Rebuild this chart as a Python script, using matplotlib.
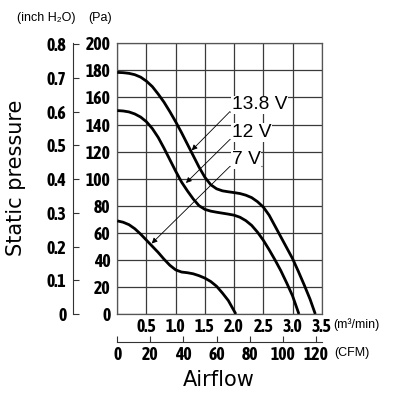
import matplotlib
matplotlib.use("Agg")
import matplotlib.pyplot as plt
from matplotlib import font_manager

# ---- data ----
x_138 = [0, 0.1, 0.2, 0.3, 0.4, 0.5, 0.6, 0.7, 0.8, 0.9, 1.0, 1.1, 1.2, 1.3, 1.4, 1.5, 1.6, 1.7, 1.8, 1.9,
         2.0, 2.1, 2.2, 2.3, 2.4, 2.5, 2.6, 2.7, 2.8, 2.9, 3.0, 3.1, 3.2, 3.3, 3.39]
y_138 = [178.5, 178.3, 177.8, 176.8, 175, 172, 168, 162.5, 156.5, 149.5, 142, 134, 125.5, 117, 108.5, 101,
         95.5, 92.5, 91, 90.3, 89.7, 89, 87.8, 86, 83, 79, 73, 65, 57, 49, 41, 31.5, 21.5, 11, 0]
x_12 = [0, 0.1, 0.2, 0.3, 0.4, 0.5, 0.6, 0.7, 0.8, 0.9, 1.0, 1.1, 1.2, 1.3, 1.4, 1.5, 1.6, 1.7, 1.8, 1.9,
        2.0, 2.1, 2.2, 2.3, 2.4, 2.5, 2.6, 2.7, 2.8, 2.9, 3.0, 3.11]
y_12 = [150.3, 150, 149.3, 147.8, 145.5, 142, 137, 130.5, 122.5, 114, 105.5, 97.5, 91, 85, 80, 77.3, 76,
        75.2, 74.5, 73.8, 73, 71.5, 69, 65.5, 60.5, 54.5, 47.5, 40, 32, 23, 13.5, 0]
x_7 = [0, 0.1, 0.2, 0.3, 0.4, 0.5, 0.6, 0.7, 0.8, 0.9, 1.0, 1.1, 1.2, 1.3, 1.4, 1.5, 1.6, 1.7, 1.8, 1.9, 2.03]
y_7 = [68.8, 67.8, 66, 63, 59, 54.5, 50, 45.5, 40.5, 36, 32.6, 31, 30.5, 29.7, 28.3, 26.5, 24, 20.5,
       15.5, 10, 0]

labels = ["13.8 V", "12 V", "7 V"]
arrow_tips = [(1.274, 120.9), (1.176, 96.8), (0.589, 52.1)]
label_anchor_y = [149.6, 129.0, 109.1]
label_anchor_x = 1.93
underline_end_x = [2.84, 2.56, 2.47]

x_ticks = [0.5, 1.0, 1.5, 2.0, 2.5, 3.0, 3.5]
x_ticklabels = ["0.5", "1.0", "1.5", "2.0", "2.5", "3.0", "3.5"]
y_ticks = [0, 20, 40, 60, 80, 100, 120, 140, 160, 180, 200]
inch_ticks = [0, 0.1, 0.2, 0.3, 0.4, 0.5, 0.6, 0.7, 0.8]
inch_ticklabels = ["0", "0.1", "0.2", "0.3", "0.4", "0.5", "0.6", "0.7", "0.8"]
cfm_ticks = [0, 20, 40, 60, 80, 100, 120]

PA_PER_INCH = 249.089
CFM_PER_M3MIN = 35.3147

# pick a narrow bold font if one is installed
narrow = None
for f in font_manager.fontManager.ttflist:
    if ("Narrow" in f.name or "Condensed" in f.name) and f.weight in ("bold", 700):
        narrow = (f.name, "normal")
        break
if narrow is None:
    for f in font_manager.fontManager.ttflist:
        if f.stretch in ("condensed", "semi-condensed", 300) and f.name == "DejaVu Sans":
            narrow = ("DejaVu Sans", "condensed")
            break
if narrow is None:
    TICK_FAMILY, TICK_STRETCH, TICK_SIZE = ["Liberation Sans", "DejaVu Sans"], "normal", 10.5
else:
    TICK_FAMILY, TICK_STRETCH, TICK_SIZE = [narrow[0], "DejaVu Sans"], narrow[1], 12.8


def style_ticklabels(labs):
    for lab in labs:
        lab.set_fontfamily(TICK_FAMILY)
        lab.set_fontstretch(TICK_STRETCH)
        lab.set_fontweight("bold")
        lab.set_fontsize(TICK_SIZE)


W, H = 397, 400
fig = plt.figure(figsize=(W / 100, H / 100), dpi=100)
fig.patch.set_facecolor("white")

left_px, right_px, top_px, bottom_px = 117.3, 321.7, 43.3, 314.0
ax = fig.add_axes([left_px / W, 1 - bottom_px / H, (right_px - left_px) / W, (bottom_px - top_px) / H])

ax.set_xlim(0, 3.5)
ax.set_ylim(0, 200)
ax.set_xticks([0] + x_ticks)
ax.set_xticklabels([""] + x_ticklabels)
ax.set_yticks(y_ticks)
ax.set_yticklabels([str(v) for v in y_ticks])
style_ticklabels(ax.get_xticklabels() + ax.get_yticklabels())
ax.tick_params(axis="both", length=0)
ax.tick_params(axis="x", pad=3)
ax.tick_params(axis="y", pad=5)
ax.grid(True, color="#3a3a3a", linewidth=0.9)
ax.set_axisbelow(True)
for s in ax.spines.values():
    s.set_color("#555555")
    s.set_linewidth(0.9)

for xs, ys in [(x_138, y_138), (x_12, y_12), (x_7, y_7)]:
    ax.plot(xs, ys, color="black", linewidth=2.0, solid_joinstyle="round",
            solid_capstyle="butt", zorder=3)

for lab, tip, ay, ux in zip(labels, arrow_tips, label_anchor_y, underline_end_x):
    ax.annotate("", xy=tip, xytext=(label_anchor_x, ay),
                arrowprops=dict(arrowstyle="-|>", color="black", lw=0.6,
                                mutation_scale=8, shrinkA=0, shrinkB=0), zorder=4)
    ax.plot([label_anchor_x, ux], [ay, ay], color="#888888", linewidth=0.8, zorder=4)
    ax.text(label_anchor_x + 0.03, ay + 1.6, lab, fontsize=13.8,
            family=["Liberation Sans", "DejaVu Sans"], va="baseline", ha="left",
            bbox=dict(facecolor="white", edgecolor="none", pad=0.5), zorder=4)

# secondary left axis in inch H2O
sec_y = ax.secondary_yaxis((73.3 - left_px) / (right_px - left_px),
                           functions=(lambda p: p / PA_PER_INCH, lambda i: i * PA_PER_INCH))
sec_y.set_yticks(inch_ticks)
sec_y.set_yticklabels(inch_ticklabels)
sec_y.tick_params(axis="y", direction="in", length=4, width=0.8, pad=5, color="#333333")
sec_y.spines["left"].set_color("#333333")
sec_y.spines["left"].set_linewidth(0.8)
style_ticklabels(sec_y.get_yticklabels())

# secondary bottom axis in CFM
sec_x = ax.secondary_xaxis(-(342.3 - bottom_px) / (bottom_px - top_px),
                           functions=(lambda m: m * CFM_PER_M3MIN, lambda c: c / CFM_PER_M3MIN))
sec_x.set_xticks(cfm_ticks)
sec_x.set_xticklabels([str(v) for v in cfm_ticks])
sec_x.tick_params(axis="x", direction="in", length=4, width=0.8, pad=2.5, color="#333333")
sec_x.spines["bottom"].set_color("#333333")
sec_x.spines["bottom"].set_linewidth(0.8)
style_ticklabels(sec_x.get_xticklabels())

small = dict(family=["Liberation Sans", "DejaVu Sans"], size=9)
fig.text(17 / W, 1 - 17.5 / H, "(inch H₂O)", ha="left", va="center", **small)
fig.text(88 / W, 1 - 17.5 / H, "(Pa)", ha="left", va="center", **small)
fig.text(333 / W, 1 - 325 / H, "(m³/min)", ha="left", va="center", **small)
fig.text(334 / W, 1 - 353 / H, "(CFM)", ha="left", va="center", **small)

fig.text(219 / W, 1 - 386 / H, "Airflow", ha="center", va="baseline",
         family="DejaVu Sans", size=15)
fig.text(16 / W, 1 - 178 / H, "Static pressure", ha="center", va="center",
         rotation=90, family="DejaVu Sans", size=15)

fig.savefig("out.png", dpi=100, facecolor="white")
